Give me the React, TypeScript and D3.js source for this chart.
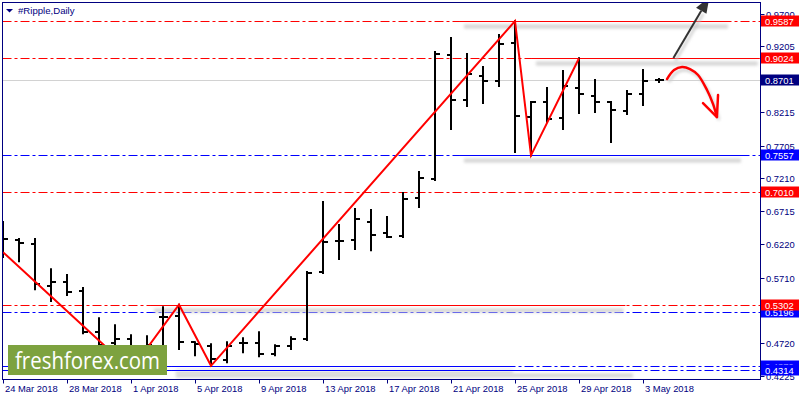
import React from 'react';
import * as d3 from 'd3';

// daily OHLC, 24 Mar 2018 .. 4 May 2018
const opens = [
  0.6400, 0.6278, 0.6217, 0.5582, 0.5643, 0.5507, 0.4887, 0.4721, 0.4782, 0.4650,
  0.5114, 0.5129, 0.4736, 0.4676, 0.4465, 0.4721, 0.4721, 0.4555, 0.4676, 0.4782,
  0.5794, 0.6262, 0.6277, 0.6550, 0.6383, 0.6338, 0.6912, 0.7199, 0.9073, 0.8393,
  0.8756, 0.8680, 0.9254, 0.8136, 0.8363, 0.8121, 0.8574, 0.8453, 0.8363, 0.8227,
  0.8484, 0.8690,
];
const highs = [
  0.6550, 0.6293, 0.6293, 0.5839, 0.5749, 0.5553, 0.5099, 0.4993, 0.4842, 0.4827,
  0.5265, 0.5302, 0.4736, 0.4706, 0.4736, 0.4797, 0.4887, 0.4691, 0.4812, 0.5794,
  0.6852, 0.6504, 0.6746, 0.6731, 0.6625, 0.6988, 0.7305, 0.9118, 0.9330, 0.9088,
  0.8892, 0.9375, 0.9587, 0.8363, 0.8574, 0.8831, 0.9024, 0.8695, 0.8363, 0.8529,
  0.8846, 0.8710,
];
const lows = [
  0.6021, 0.5960, 0.5537, 0.5356, 0.5447, 0.4872, 0.4661, 0.4646, 0.4314, 0.4500,
  0.4585, 0.4631, 0.4540, 0.4379, 0.4434, 0.4585, 0.4525, 0.4540, 0.4631, 0.4767,
  0.5779, 0.5991, 0.6142, 0.6126, 0.6323, 0.6323, 0.6776, 0.7184, 0.7955, 0.8302,
  0.8348, 0.8605, 0.7607, 0.7557, 0.8061, 0.7955, 0.8197, 0.8212, 0.7758, 0.8181,
  0.8317, 0.8665,
];
const closes = [
  0.6293, 0.6232, 0.5613, 0.5643, 0.5492, 0.4887, 0.4691, 0.4782, 0.4660, 0.4700,
  0.5114, 0.4736, 0.4706, 0.4480, 0.4676, 0.4721, 0.4555, 0.4676, 0.4782, 0.5779,
  0.6247, 0.6262, 0.6595, 0.6353, 0.6323, 0.6897, 0.7214, 0.9088, 0.8393, 0.8786,
  0.8680, 0.9239, 0.8151, 0.8363, 0.8106, 0.8605, 0.8484, 0.8363, 0.8242, 0.8484,
  0.8680, 0.8701,
];

// zigzag turning points: [day index, price]
const zigzag: [number, number][] = [
  [0, 0.6096], [8, 0.4314], [11, 0.5302], [13, 0.4379], [32, 0.9587], [33, 0.7557], [36, 0.9024],
];

const yTicks = [0.9700, 0.9205, 0.8215, 0.7705, 0.7210, 0.6715, 0.6220, 0.5710, 0.4720, 0.4225];
const xTickLabels = [
  '24 Mar 2018', '28 Mar 2018', '1 Apr 2018', '5 Apr 2018', '9 Apr 2018', '13 Apr 2018',
  '17 Apr 2018', '21 Apr 2018', '25 Apr 2018', '29 Apr 2018', '3 May 2018',
];

// horizontal levels (drawn in this order, later ones on top)
const levelPrices = [0.9587, 0.9024, 0.7557, 0.7010, 0.5196, 0.5302, 0.4379, 0.4314];
const levelColors = ['#ff0000', '#ff0000', '#0000ff', '#ff0000', '#0000ff', '#ff0000', '#0000ff', '#0000ff'];
// solid segment [from day, to day] or null
const levelSolid: ([number, number] | null)[] = [
  [28.56, 45.44], [33.06, 47.3], [28.56, 46.25], null, null, [9.19, 38.9], [10.56, 32], [10.56, 39.5],
];
const lastPrice = 0.8701;

const W = 800, H = 400;
const left = 2.5, right = 760.5, top = 2.5, bottom = 379.5;
const day0 = Date.UTC(2018, 2, 24);
const DAY = 86400000;

const x = d3.scaleUtc().domain([new Date(day0), new Date(day0 + 41 * DAY)]).range([3, 659]);
const y = d3.scaleLinear().domain([0.4225, 0.97]).range([376, 13.5]);
const xd = (i: number) => x(new Date(day0 + i * DAY));

const navy = '#000080';
const font = '"Liberation Sans", Arial, sans-serif';
const dashDot = '9,3,3,3';

export default function App() {
  const zig = d3.line<[number, number]>().x(d => xd(d[0])).y(d => y(d[1]))(zigzag) || '';

  // annotation arrows in data space
  const upArrow: [number, number][] = [[41.9, 0.9028], [44.15, 0.9949]];
  const curve: [number, number][] = [
    [41.5, 0.8710], [41.94, 0.8846], [42.44, 0.8892], [42.94, 0.8861], [43.44, 0.8771],
    [44.0, 0.8544], [44.38, 0.8332], [44.62, 0.8136],
  ];
  const curvePath = d3.line<[number, number]>().x(d => xd(d[0])).y(d => y(d[1])).curve(d3.curveCatmullRom)(curve) || '';
  const headL: [number, number] = [43.75, 0.8348];
  const headR: [number, number] = [44.69, 0.8468];
  const tip = curve[curve.length - 1];

  const ux1 = xd(upArrow[0][0]), uy1 = y(upArrow[0][1]);
  const ux2 = xd(upArrow[1][0]), uy2 = y(upArrow[1][1]);
  const ang = Math.atan2(uy2 - uy1, ux2 - ux1);
  const hl = 16, hw = 6;
  const bx = ux2 - hl * Math.cos(ang), by = uy2 - hl * Math.sin(ang);
  const head = [
    [ux2, uy2],
    [bx + hw * Math.sin(ang), by - hw * Math.cos(ang)],
    [bx - hw * Math.sin(ang), by + hw * Math.cos(ang)],
  ].map(p => p.join(',')).join(' ');

  const labelBox = (price: number, fill: string, key: string) => (
    <g key={key}>
      <rect x={761} y={Math.round(y(price)) - 5.5} width={38} height={11} fill={fill} />
      <text x={765} y={Math.round(y(price)) + 3.5} fill="#fff" fontSize={9.4} fontFamily={font}>
        {price.toFixed(4)}
      </text>
    </g>
  );

  return (
    <div style={{ position: 'fixed', left: 0, top: 0 }}>
      <svg width={W} height={H} style={{ display: 'block', background: '#fff' }}>
        <defs>
          <filter id="blur" filterUnits="userSpaceOnUse" x={0} y={0} width={W} height={H}>
            <feGaussianBlur stdDeviation={1.6} />
          </filter>
          <clipPath id="plot">
            <rect x={left} y={top} width={right - left} height={bottom - top} />
          </clipPath>
        </defs>

        <g clipPath="url(#plot)">
          {/* current price line */}
          <line x1={left} x2={right} y1={Math.round(y(lastPrice)) + 0.5} y2={Math.round(y(lastPrice)) + 0.5} stroke="#d2d2d2" />

          {/* level lines */}
          {levelPrices.map((p, i) => {
            const yy = Math.round(y(p)) + 0.5;
            const seg = levelSolid[i];
            return (
              <g key={'lv' + i}>
                <line x1={left} x2={right} y1={yy} y2={yy} stroke={levelColors[i]} strokeDasharray={dashDot} />
                {seg && (
                  <>
                    <rect x={xd(seg[0])} y={yy - 1} width={xd(seg[1]) - xd(seg[0])} height={2} fill="#fff" />
                    <rect x={xd(seg[0]) + 4} y={yy + 3} width={xd(seg[1]) - xd(seg[0]) - 6} height={4} fill="#d4d4d4" filter="url(#blur)" />
                    <line x1={xd(seg[0])} x2={xd(seg[1])} y1={yy} y2={yy} stroke={levelColors[i]} />
                  </>
                )}
              </g>
            );
          })}

          {/* OHLC bars */}
          {opens.map((o, i) => {
            const cx = Math.round(xd(i));
            return (
              <g key={'b' + i} stroke="#000" strokeWidth={2}>
                <line x1={cx} x2={cx} y1={y(highs[i]) - 1} y2={y(lows[i]) + 1} />
                <line x1={cx - 4} x2={cx} y1={Math.round(y(o))} y2={Math.round(y(o))} />
                <line x1={cx} x2={cx + 5} y1={Math.round(y(closes[i]))} y2={Math.round(y(closes[i]))} />
              </g>
            );
          })}

          {/* zigzag */}
          <path d={zig} fill="none" stroke="#ff0000" strokeWidth={2} />

          {/* arrows */}
          <line x1={ux1 + 2} y1={uy1 + 3} x2={bx + 2} y2={by + 3} stroke="#c4c4c4" strokeWidth={2} filter="url(#blur)" />
          <line x1={ux1} y1={uy1} x2={bx} y2={by} stroke="#333" strokeWidth={2} />
          <polygon points={head} fill="#333" />

          <path d={curvePath} fill="none" stroke="#ccc" strokeWidth={2.5} transform="translate(2,3)" filter="url(#blur)" />
          <path d={curvePath} fill="none" stroke="#ff0000" strokeWidth={2.5} strokeLinecap="round" />
          <polyline
            points={[headL, tip, headR].map(d => `${xd(d[0])},${y(d[1])}`).join(' ')}
            fill="none" stroke="#ff0000" strokeWidth={2.5} strokeLinecap="round" strokeLinejoin="round"
          />

          {/* logo */}
          <rect x={8} y={345} width={159} height={30} fill="#7da23f" />
          <text x={15} y={369} fill="#fff" fontSize={24} fontFamily='"Open Sans", sans-serif' textLength={145} lengthAdjust="spacingAndGlyphs">
            freshforex.com
          </text>
        </g>

        {/* title */}
        <polygon points="6,9 13,9 9.5,12.5" fill={navy} />
        <text x={18} y={14} fill={navy} fontSize={9.6} fontFamily={font}>#Ripple,Daily</text>

        {/* frame */}
        <rect x={left} y={top} width={right - left} height={bottom - top} fill="none" stroke={navy} />

        {/* y axis */}
        {yTicks.map((t, i) => (
          <g key={'yt' + i}>
            <line x1={right} x2={right + 4} y1={Math.round(y(t)) + 0.5} y2={Math.round(y(t)) + 0.5} stroke={navy} />
            <text x={766} y={Math.round(y(t)) + 4} fill={navy} fontSize={9.4} fontFamily={font}>
              {t.toFixed(4)}
            </text>
          </g>
        ))}

        {/* x axis */}
        {xTickLabels.map((lbl, i) => {
          const tx = Math.round(xd(i * 4)) + 0.5;
          return (
            <g key={'xt' + i}>
              <line x1={tx} x2={tx} y1={bottom} y2={bottom + 4} stroke={navy} />
              <text x={tx + 1.5} y={392} fill={navy} fontSize={9.4} fontFamily={font}>{lbl}</text>
            </g>
          );
        })}

        {/* price boxes */}
        {levelPrices.map((p, i) => labelBox(p, levelColors[i], 'lb' + i))}
        {labelBox(lastPrice, navy, 'last')}
      </svg>
    </div>
  );
}
